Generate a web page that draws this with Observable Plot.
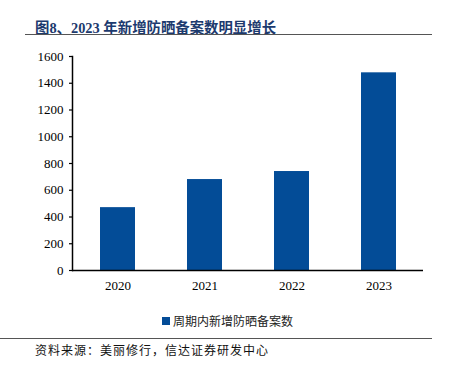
<!DOCTYPE html>
<html><head><meta charset="utf-8">
<script src="https://cdn.jsdelivr.net/npm/d3@7"></script>
<script src="https://cdn.jsdelivr.net/npm/@observablehq/plot@0.6"></script>
<style>
body{margin:0;background:#fff;width:453px;height:365px;position:relative;overflow:hidden;}
#title{position:absolute;left:35px;top:16px;font-family:"Liberation Serif","Noto Sans CJK SC",serif;font-weight:bold;font-size:14.4px;color:#1c3a6e;white-space:nowrap;}
#tline{position:absolute;left:25px;top:34px;width:407px;height:0;border-top:1.5px solid #555;}
#chart{position:absolute;left:0;top:40px;}
#legend{position:absolute;left:162px;top:312px;font-family:"Noto Sans CJK SC",sans-serif;font-size:12px;color:#222;display:flex;align-items:center;}
#legend span.sw{display:inline-block;width:8px;height:8px;background:#034c97;margin-right:3px;}
#sline{position:absolute;left:0;top:338px;width:432px;border-top:1.5px solid #555;}
#source{position:absolute;left:35px;top:341px;font-family:"Noto Sans CJK SC",sans-serif;font-size:12px;letter-spacing:1px;color:#111;white-space:nowrap;}
</style></head>
<body>
<div id="title">图8、2023 年新增防晒备案数明显增长</div>
<div id="tline"></div>
<div id="chart"></div>
<div id="legend"><span class="sw"></span>周期内新增防晒备案数</div>
<div id="sline"></div>
<div id="source">资料来源：美丽修行，信达证券研发中心</div>
<script>
const years = ["2020","2021","2022","2023"];
const counts = [470, 680, 740, 1478];
const yTicks = [0,200,400,600,800,1000,1200,1400,1600];
const seriesName = "周期内新增防晒备案数";
const data = years.map((y,i)=>({year:y, value:counts[i]}));
const chart = Plot.plot({
  width:453, height:260,
  marginLeft:72, marginRight:30, marginTop:16, marginBottom:30,
  style:{fontFamily:"Liberation Serif, serif", fontSize:"13px", color:"#000", background:"#fff"},
  x:{domain:years, paddingInner:0.6, paddingOuter:0.3, label:null},
  y:{domain:[0,1600], ticks:yTicks, label:null},
  marks:[
    Plot.barY(data,{x:"year", y:"value", fill:"#034c97"}),
    Plot.axisY({ticks:yTicks, tickSize:3, tickPadding:6, tickFormat:d=>String(d), label:null, stroke:"#000", strokeWidth:1.2, fontSize:13}),
    Plot.axisX({tickSize:0, tickPadding:10, label:null, fontSize:13}),
    Plot.frame({anchor:"left", stroke:"#000", strokeWidth:1.5}),
    Plot.ruleY([0],{stroke:"#000", strokeWidth:1.5})
  ]
});
document.getElementById("chart").appendChild(chart);
</script>
</body></html>
